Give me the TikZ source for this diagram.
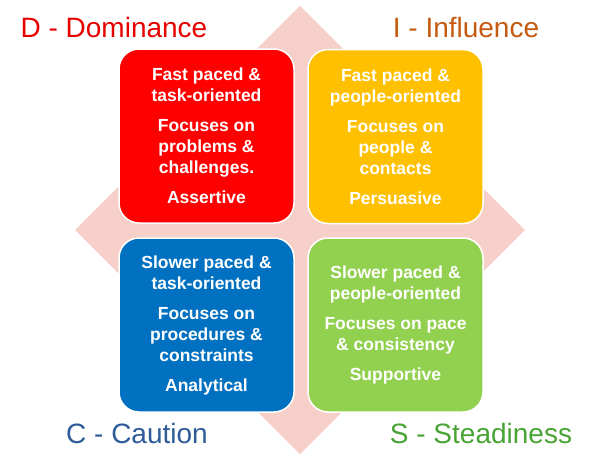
\documentclass[tikz,border=0pt]{standalone}
\usepackage{fontspec}
\setmainfont{Liberation Sans}
\definecolor{diam}{RGB}{246,208,200}
\definecolor{boxD}{RGB}{255,0,0}
\definecolor{boxI}{RGB}{255,192,0}
\definecolor{boxC}{RGB}{0,112,192}
\definecolor{boxS}{RGB}{146,208,80}
\definecolor{txtD}{RGB}{230,0,0}
\definecolor{txtI}{RGB}{197,90,17}
\definecolor{txtC}{RGB}{46,92,153}
\definecolor{txtS}{RGB}{72,164,52}
\begin{document}
\begin{tikzpicture}[x=1pt,y=-1pt,
  quad/.style={draw=white, line width=1.5pt, rounded corners=20pt,
    minimum width=175pt, minimum height=174pt, text=white, inner sep=0pt,
    font=\fontsize{17.5}{21}\selectfont\bfseries, align=center},
  title/.style={font=\fontsize{28}{32}\selectfont, anchor=base, inner sep=0pt}]
\useasboundingbox[fill=white] (0,0) rectangle (592,471);
\fill[diam] (300,6) -- (525,230) -- (300,454) -- (75,230) -- cycle;
\node[quad, fill=boxD] (D) at (206.5,136) {Fast paced \&\\task-oriented\\[9pt]Focuses on\\problems \&\\challenges.\\[9pt]Assertive};
\node[quad, fill=boxI] (I) at (395.5,136.5) {Fast paced \&\\people-oriented\\[9pt]Focuses on\\people \&\\contacts\\[9pt]Persuasive};
\node[quad, fill=boxC] (C) at (206.5,325) {Slower paced \&\\task-oriented\\[9pt]Focuses on\\procedures \&\\constraints\\[9pt]Analytical};
\node[quad, fill=boxS] (S) at (395.5,325) {Slower paced \&\\people-oriented\\[9pt]Focuses on pace\\\& consistency\\[9pt]Supportive};
\node[title, text=txtD] (tD) at (114,37) {D - Dominance};
\node[title, text=txtI] (tI) at (466,37) {I - Influence};
\node[title, text=txtC] (tC) at (137,443) {C - Caution};
\node[title, text=txtS] (tS) at (481,443) {S - Steadiness};
\end{tikzpicture}
\end{document}
